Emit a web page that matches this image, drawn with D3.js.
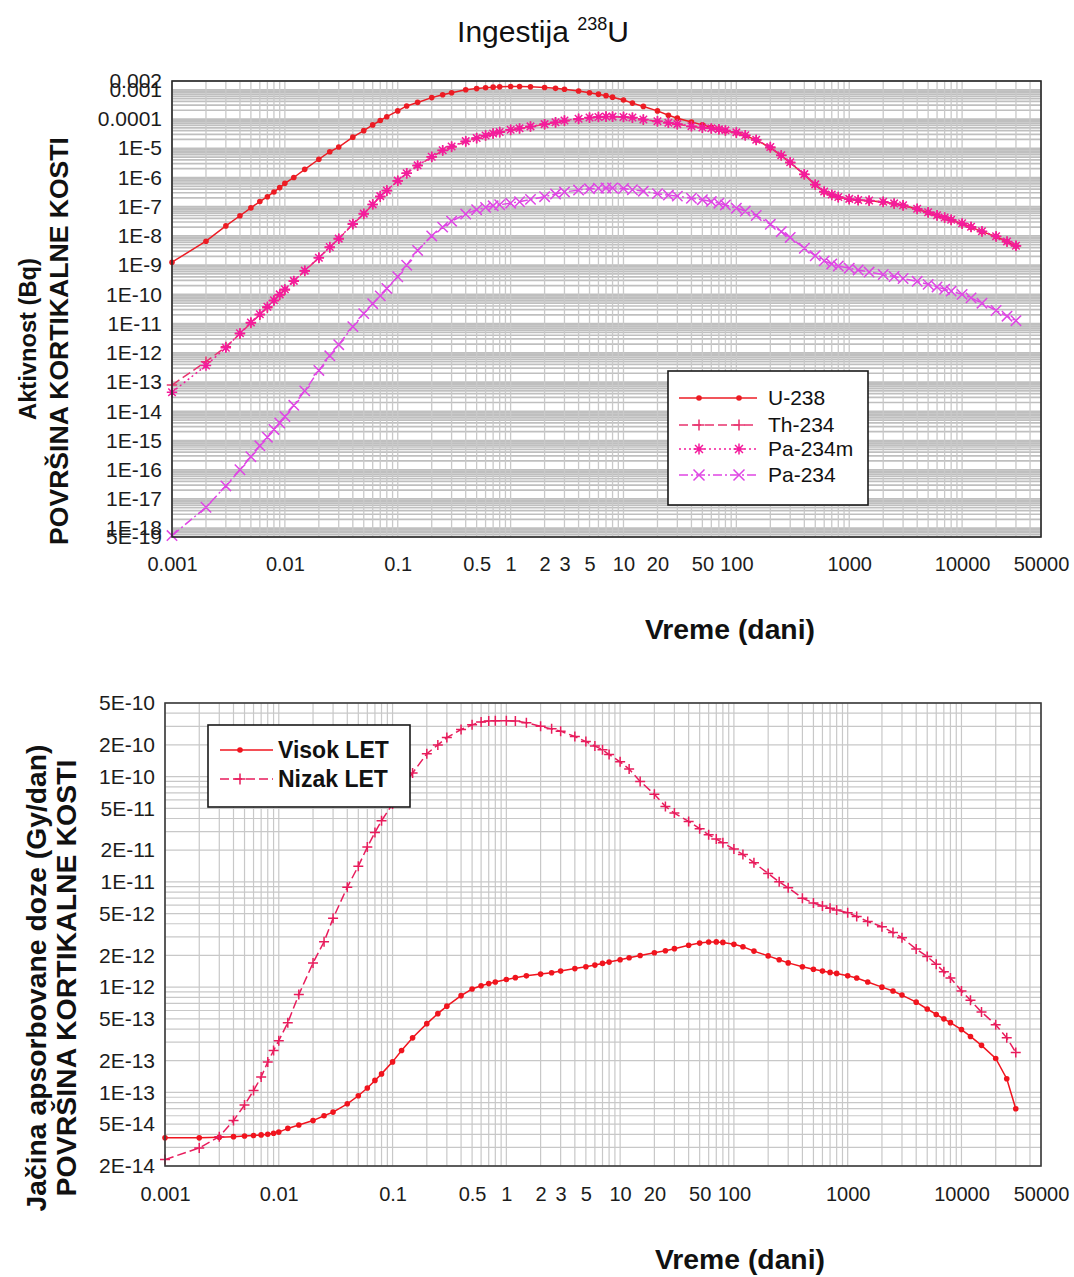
<!DOCTYPE html>
<html><head><meta charset="utf-8">
<script src="https://cdn.jsdelivr.net/npm/d3@7"></script>
<style>
body{margin:0;background:#fff;}
svg{display:block;}
text{font-family:"Liberation Sans",Arial,sans-serif;}
</style>
</head><body>
<svg id="c" width="1074" height="1277"></svg>
<script>
// ---------- DATA ----------
const topTimes = [0.001,0.002,0.003,0.004,0.005,0.006,0.007,0.008,0.009,0.01,
  0.012,0.015,0.02,0.025,0.03,0.04,0.05,0.06,0.07,0.08,0.1,
  0.12,0.15,0.2,0.25,0.3,0.4,0.5,0.6,0.7,0.8,1,
  1.2,1.5,2,2.5,3,4,5,6,7,8,10,
  12,15,20,25,30,40,50,60,70,80,100,
  120,150,200,250,300,400,500,600,700,800,1000,
  1200,1500,2000,2500,3000,4000,5000,6000,7000,8000,10000,
  12000,15000,20000,25000,30000];
const u238 = [1.26e-9,6.6e-9,2.2e-8,4.9e-8,9.1e-8,1.5e-7,2.2e-7,3.2e-7,4.5e-7,6.3e-7,
  1.0e-6,1.9e-6,4.2e-6,7.6e-6,1.1e-5,2.4e-5,4.0e-5,6.3e-5,8.9e-5,1.2e-4,1.9e-4,
  2.8e-4,3.7e-4,5.4e-4,6.8e-4,7.9e-4,1.0e-3,1.1e-3,1.17e-3,1.23e-3,1.26e-3,1.29e-3,
  1.29e-3,1.26e-3,1.2e-3,1.12e-3,1.05e-3,9.1e-4,7.9e-4,7.1e-4,6.3e-4,5.6e-4,4.5e-4,
  3.5e-4,2.7e-4,1.9e-4,1.35e-4,1.07e-4,7.9e-5,6.3e-5,5.2e-5,4.5e-5,4.0e-5,3.4e-5,
  2.75e-5,1.9e-5,1.05e-5,5.6e-6,3.2e-6,1.26e-6,5.6e-7,3.2e-7,2.5e-7,2.1e-7,1.8e-7,
  1.66e-7,1.6e-7,1.45e-7,1.26e-7,1.1e-7,8.3e-8,6.3e-8,5.0e-8,4.2e-8,3.5e-8,2.6e-8,
  2.0e-8,1.4e-8,9.5e-9,6.3e-9,4.5e-9];
const th234 = [7.9e-14,5.0e-13,1.6e-12,4.5e-12,1.05e-11,2.0e-11,3.5e-11,6.0e-11,9.5e-11,1.4e-10,
  2.8e-10,6.3e-10,1.8e-9,4.0e-9,7.9e-9,2.5e-8,5.6e-8,1.2e-7,2.2e-7,3.5e-7,7.6e-7,
  1.4e-6,2.5e-6,5.0e-6,8.3e-6,1.1e-5,1.7e-5,2.2e-5,2.7e-5,3.2e-5,3.5e-5,4.2e-5,
  4.7e-5,5.5e-5,6.6e-5,7.6e-5,8.7e-5,1.0e-4,1.1e-4,1.17e-4,1.2e-4,1.2e-4,1.17e-4,
  1.1e-4,9.5e-5,8.3e-5,7.4e-5,6.6e-5,5.6e-5,5.0e-5,4.7e-5,4.4e-5,4.0e-5,3.4e-5,
  2.75e-5,1.9e-5,1.05e-5,5.6e-6,3.2e-6,1.26e-6,5.6e-7,3.2e-7,2.5e-7,2.1e-7,1.8e-7,
  1.66e-7,1.6e-7,1.45e-7,1.26e-7,1.1e-7,8.3e-8,6.3e-8,5.0e-8,4.2e-8,3.5e-8,2.6e-8,
  2.0e-8,1.4e-8,9.5e-9,6.3e-9,4.5e-9];
const pa234m = [4.5e-14,3.7e-13,1.5e-12,4.7e-12,1.1e-11,2.1e-11,3.8e-11,6.3e-11,1.0e-10,1.5e-10,
  2.9e-10,6.5e-10,1.8e-9,4.2e-9,8.1e-9,2.6e-8,5.8e-8,1.2e-7,2.3e-7,3.6e-7,7.8e-7,
  1.4e-6,2.6e-6,5.1e-6,8.5e-6,1.15e-5,1.75e-5,2.25e-5,2.75e-5,3.2e-5,3.6e-5,4.3e-5,
  4.8e-5,5.6e-5,6.7e-5,7.8e-5,8.9e-5,1.02e-4,1.12e-4,1.18e-4,1.22e-4,1.21e-4,1.18e-4,
  1.12e-4,9.7e-5,8.4e-5,7.5e-5,6.7e-5,5.7e-5,5.1e-5,4.8e-5,4.5e-5,4.1e-5,3.5e-5,
  2.8e-5,1.95e-5,1.1e-5,5.8e-6,3.3e-6,1.3e-6,5.8e-7,3.3e-7,2.6e-7,2.15e-7,1.85e-7,
  1.7e-7,1.62e-7,1.48e-7,1.3e-7,1.12e-7,8.5e-8,6.5e-8,5.1e-8,4.3e-8,3.6e-8,2.7e-8,
  2.05e-8,1.45e-8,9.8e-9,6.5e-9,4.6e-9];
const pa234 = [5.6e-19,5.2e-18,2.8e-17,1.0e-16,2.8e-16,6.6e-16,1.3e-15,2.4e-15,4.0e-15,6.6e-15,
  1.6e-14,5.0e-14,2.5e-13,7.9e-13,1.9e-12,7.9e-12,2.2e-11,4.8e-11,8.9e-11,1.6e-10,4.0e-10,
  1.0e-9,3.2e-9,1.0e-8,2.0e-8,3.2e-8,5.6e-8,7.9e-8,9.5e-8,1.07e-7,1.17e-7,1.32e-7,
  1.48e-7,1.78e-7,2.2e-7,2.7e-7,3.2e-7,3.7e-7,4.1e-7,4.3e-7,4.4e-7,4.4e-7,4.2e-7,
  3.8e-7,3.4e-7,2.8e-7,2.5e-7,2.3e-7,1.95e-7,1.74e-7,1.5e-7,1.32e-7,1.15e-7,8.9e-8,
  7.1e-8,5.0e-8,2.5e-8,1.4e-8,8.9e-9,3.8e-9,2.1e-9,1.4e-9,1.1e-9,9.3e-10,7.9e-10,
  6.8e-10,5.8e-10,4.8e-10,4.1e-10,3.5e-10,2.8e-10,2.2e-10,1.8e-10,1.5e-10,1.3e-10,1.0e-10,
  7.6e-11,5.0e-11,2.8e-11,1.8e-11,1.26e-11];

const botTimes = topTimes.slice();
const visokLET = [3.7e-14,3.7e-14,3.75e-14,3.8e-14,3.85e-14,3.9e-14,3.95e-14,4.0e-14,4.1e-14,4.2e-14,
  4.55e-14,4.9e-14,5.4e-14,6.0e-14,6.5e-14,7.8e-14,9.3e-14,1.1e-13,1.3e-13,1.5e-13,1.95e-13,
  2.5e-13,3.3e-13,4.5e-13,5.6e-13,6.6e-13,8.3e-13,9.6e-13,1.03e-12,1.08e-12,1.12e-12,1.18e-12,
  1.23e-12,1.28e-12,1.33e-12,1.37e-12,1.42e-12,1.5e-12,1.56e-12,1.62e-12,1.68e-12,1.73e-12,1.82e-12,
  1.9e-12,2.0e-12,2.12e-12,2.22e-12,2.32e-12,2.5e-12,2.62e-12,2.68e-12,2.69e-12,2.66e-12,2.55e-12,
  2.42e-12,2.2e-12,1.98e-12,1.82e-12,1.7e-12,1.56e-12,1.48e-12,1.42e-12,1.38e-12,1.35e-12,1.28e-12,
  1.22e-12,1.12e-12,1.0e-12,9.2e-13,8.4e-13,7.2e-13,6.2e-13,5.5e-13,5.0e-13,4.6e-13,3.95e-13,
  3.4e-13,2.8e-13,2.1e-13,1.35e-13,7.0e-14];
const nizakLET = [2.3e-14,2.97e-14,3.8e-14,5.4e-14,7.6e-14,1.04e-13,1.4e-13,1.95e-13,2.5e-13,3.1e-13,
  4.6e-13,8.5e-13,1.7e-12,2.7e-12,4.5e-12,8.9e-12,1.41e-11,2.14e-11,2.95e-11,3.8e-11,5.5e-11,
  7.8e-11,1.08e-10,1.65e-10,2.0e-10,2.35e-10,2.8e-10,3.1e-10,3.3e-10,3.37e-10,3.39e-10,3.39e-10,
  3.38e-10,3.25e-10,3.0e-10,2.84e-10,2.7e-10,2.4e-10,2.15e-10,1.95e-10,1.8e-10,1.62e-10,1.38e-10,
  1.18e-10,9.0e-11,6.8e-11,5.2e-11,4.5e-11,3.75e-11,3.2e-11,2.8e-11,2.55e-11,2.35e-11,2.05e-11,
  1.82e-11,1.52e-11,1.2e-11,1.0e-11,8.8e-12,7.0e-12,6.3e-12,5.9e-12,5.6e-12,5.4e-12,5.1e-12,
  4.7e-12,4.2e-12,3.75e-12,3.3e-12,2.95e-12,2.3e-12,1.95e-12,1.65e-12,1.4e-12,1.22e-12,9.2e-13,
  7.5e-13,5.8e-13,4.4e-13,3.3e-13,2.4e-13];

const xTickValues = [0.001,0.01,0.1,0.5,1,2,3,5,10,20,50,100,1000,10000,50000];
const xTickLabels = ["0.001","0.01","0.1","0.5","1","2","3","5","10","20","50","100","1000","10000","50000"];
const topYTickValues = [0.002,0.001,1e-4,1e-5,1e-6,1e-7,1e-8,1e-9,1e-10,1e-11,1e-12,1e-13,1e-14,1e-15,1e-16,1e-17,1e-18,5e-19];
const topYTickLabels = ["0.002","0.001","0.0001","1E-5","1E-6","1E-7","1E-8","1E-9","1E-10","1E-11","1E-12","1E-13","1E-14","1E-15","1E-16","1E-17","1E-18","5E-19"];
const botYTickValues = [5e-10,2e-10,1e-10,5e-11,2e-11,1e-11,5e-12,2e-12,1e-12,5e-13,2e-13,1e-13,5e-14,2e-14];
const botYTickLabels = ["5E-10","2E-10","1E-10","5E-11","2E-11","1E-11","5E-12","2E-12","1E-12","5E-13","2E-13","1E-13","5E-14","2E-14"];

const topSeries = [
  {name:"U-238",   values:u238,   color:"#ec1c24", dash:null,       marker:"dot"},
  {name:"Th-234",  values:th234,  color:"#e8336e", dash:"9,4",      marker:"plus"},
  {name:"Pa-234m", values:pa234m, color:"#f41c9c", dash:"2,3",      marker:"star"},
  {name:"Pa-234",  values:pa234,  color:"#df46e4", dash:"9,3,2,3",  marker:"x"}
];
const botSeries = [
  {name:"Visok LET", values:visokLET, color:"#f0141e", dash:null,  marker:"dot"},
  {name:"Nizak LET", values:nizakLET, color:"#e81c5c", dash:"9,4", marker:"plus"}
];

// ---------- DRAW ----------
const svg = d3.select("#c");
svg.append("rect").attr("width",1074).attr("height",1277).attr("fill","#fff");

function minorValues(lo, hi){
  const out=[];
  for(let e=Math.floor(Math.log10(lo))-1;e<=Math.ceil(Math.log10(hi));e++){
    for(let k=1;k<=9;k++){const v=k*Math.pow(10,e); if(v>=lo*0.9999 && v<=hi*1.0001) out.push(v);}
  }
  return out;
}

function markerPath(type, x, y, s){
  if(type==="plus") return `M${x-s},${y}H${x+s}M${x},${y-s}V${y+s}`;
  if(type==="x") return `M${x-s},${y-s}L${x+s},${y+s}M${x-s},${y+s}L${x+s},${y-s}`;
  if(type==="star"){const d=s*0.72;return `M${x-s},${y}H${x+s}M${x},${y-s}V${y+s}M${x-d},${y-d}L${x+d},${y+d}M${x-d},${y+d}L${x+d},${y-d}`;}
  return "";
}

function drawMarkers(g, pts, type, color, s){
  if(type==="dot"){
    g.selectAll(null).data(pts).enter().append("circle")
      .attr("cx",d=>d[0]).attr("cy",d=>d[1]).attr("r",s).attr("fill",color);
  } else {
    g.append("path").attr("d",pts.map(p=>markerPath(type,p[0],p[1],s)).join(""))
      .attr("stroke",color).attr("stroke-width",1.5).attr("fill","none");
    if(type==="star"){
      g.selectAll(null).data(pts).enter().append("circle")
        .attr("cx",d=>d[0]).attr("cy",d=>d[1]).attr("r",2.3).attr("fill",color);
    }
  }
}

function chart(cfg){
  const {x,y,times,series,yTicks,yLabels,gridH,gridV,frameColor,xPad,msize} = cfg;
  const [x0,x1]=x.range(); const [y0,y1]=y.range();
  const g = svg.append("g");
  const gg = g.append("g");
  minorValues(y.domain()[0], y.domain()[1]).forEach(v=>{
    gg.append("line").attr("x1",x0).attr("x2",x1).attr("y1",y(v)).attr("y2",y(v))
      .attr("stroke",gridH.color).attr("stroke-width",gridH.w);
  });
  minorValues(x.domain()[0], x.domain()[1]).forEach(v=>{
    gg.append("line").attr("y1",y1).attr("y2",y0).attr("x1",x(v)).attr("x2",x(v))
      .attr("stroke",gridV.color).attr("stroke-width",gridV.w);
  });
  series.forEach(s=>{
    const pts = times.map((t,i)=>[x(t), y(s.values[i])]);
    g.append("path").attr("d",d3.line()(pts)).attr("fill","none").attr("stroke",s.color)
      .attr("stroke-width",1.5).attr("stroke-dasharray",s.dash);
    drawMarkers(g.append("g"), pts, s.marker, s.color, s.marker==="dot"?2.8:msize);
  });
  g.append("rect").attr("x",x0).attr("y",y1).attr("width",x1-x0).attr("height",y0-y1)
    .attr("fill","none").attr("stroke",frameColor).attr("stroke-width",1.6);
  const ya = g.append("g").attr("transform",`translate(${x0},0)`)
    .call(d3.axisLeft(y).tickValues(yTicks).tickFormat((d,i)=>yLabels[i]).tickSize(0).tickPadding(10));
  ya.select(".domain").remove();
  ya.selectAll("text").attr("font-size",21).attr("font-family","'Liberation Sans',Arial,sans-serif").attr("fill","#1c1c1c");
  const xa = g.append("g").attr("transform",`translate(0,${y0})`)
    .call(d3.axisBottom(x).tickValues(xTickValues).tickFormat((d,i)=>xTickLabels[i]).tickSize(0).tickPadding(xPad));
  xa.select(".domain").remove();
  xa.selectAll("text").attr("font-size",20).attr("font-family","'Liberation Sans',Arial,sans-serif").attr("fill","#1c1c1c");
  return g;
}

function fitText(sel, target){
  const n = sel.node(); const fs = parseFloat(sel.attr("font-size"));
  const w = n.getComputedTextLength();
  sel.attr("font-size", (fs*target/w).toFixed(2));
}

// Top chart
const xT = d3.scaleLog().domain([0.001,50000]).range([172,1041]);
const yT = d3.scaleLog().domain([5e-19,0.002]).range([537,81]);
chart({x:xT,y:yT,times:topTimes,series:topSeries,yTicks:topYTickValues,yLabels:topYTickLabels,
  gridH:{color:"#bfbfbf",w:1.7},gridV:{color:"#c9c9c9",w:1.3},frameColor:"#262626",xPad:20,msize:5.2});

// Bottom chart
const xB = d3.scaleLog().domain([0.001,50000]).range([165,1041]);
const yB = d3.scaleLog().domain([2e-14,5e-10]).range([1166,703]);
chart({x:xB,y:yB,times:botTimes,series:botSeries,yTicks:botYTickValues,yLabels:botYTickLabels,
  gridH:{color:"#c8c8c8",w:1.2},gridV:{color:"#c8c8c8",w:1.2},frameColor:"#3a3a3a",xPad:21,msize:5});

// Title
const title = svg.append("text").attr("x",543).attr("y",42).attr("text-anchor","middle")
  .attr("font-family","'Open Sans',sans-serif").attr("font-size",30).attr("fill","#111");
title.append("tspan").text("Ingestija ");
title.append("tspan").attr("font-size","0.6em").attr("dy",-12).text("238");
title.append("tspan").attr("dy",12).text("U");

function vText(x, cy, str, size, target){
  const t = svg.append("text").attr("transform",`translate(${x},${cy}) rotate(-90)`)
    .attr("text-anchor","middle").attr("font-weight","bold").attr("font-size",size).attr("fill","#111").text(str);
  fitText(t, target);
  return t;
}
vText(36, 339, "Aktivnost (Bq)", 24, 162);
vText(68, 341, "POVRŠINA KORTIKALNE KOSTI", 24, 408);
vText(46, 978, "Jačina apsorbovane doze (Gy/dan)", 24, 467);
vText(76, 978, "POVRŠINA KORTIKALNE KOSTI", 24, 437);

const xt1 = svg.append("text").attr("x",730).attr("y",639).attr("text-anchor","middle")
  .attr("font-weight","bold").attr("font-size",24).attr("fill","#111").text("Vreme (dani)");
fitText(xt1,170);
const xt2 = svg.append("text").attr("x",740).attr("y",1269).attr("text-anchor","middle")
  .attr("font-weight","bold").attr("font-size",24).attr("fill","#111").text("Vreme (dani)");
fitText(xt2,170);

function legend(box, items, lx0, lx1, mxs, tx, ys, fs, bold){
  const g = svg.append("g");
  g.append("rect").attr("x",box[0]).attr("y",box[1]).attr("width",box[2]).attr("height",box[3])
    .attr("fill","#fff").attr("stroke","#1a1a1a").attr("stroke-width",1.6);
  items.forEach((s,i)=>{
    const y=ys[i];
    g.append("line").attr("x1",lx0).attr("x2",lx1).attr("y1",y).attr("y2",y)
      .attr("stroke",s.color).attr("stroke-width",1.5).attr("stroke-dasharray",s.dash);
    drawMarkers(g.append("g"), mxs.map(mx=>[mx,y]), s.marker, s.color, s.marker==="dot"?2.8:5.5);
    g.append("text").attr("x",tx).attr("y",y).attr("dy","0.35em").attr("font-size",fs)
      .attr("font-weight",bold?"bold":"normal").attr("fill","#111").text(s.name);
  });
}
legend([668,371,200,134], topSeries, 679, 757, [699,739], 768, [398,425,449,475], 21, false);
legend([208,725,202,82], botSeries, 220, 273, [240], 278, [750,779], 23, true);
</script>
</body></html>
